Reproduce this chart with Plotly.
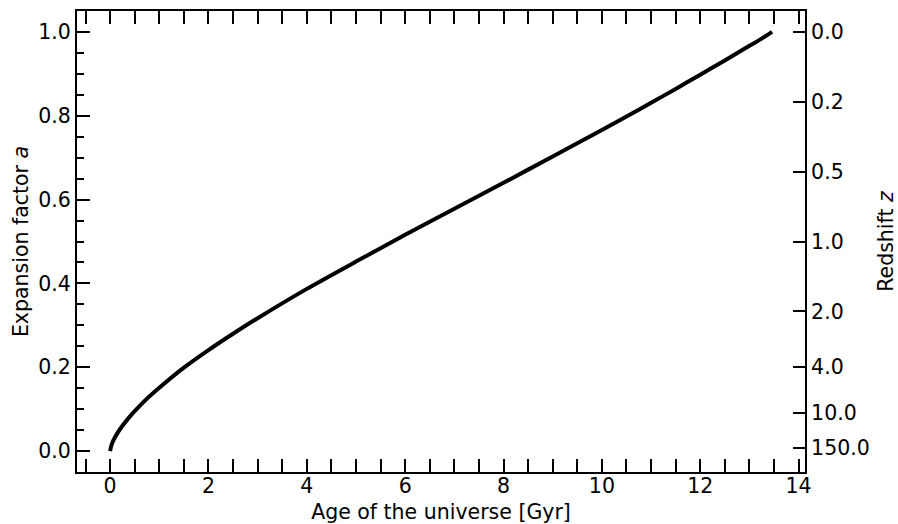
import plotly.graph_objects as go

# Age of the universe (Gyr) and the expansion factor at that age
age_gyr = [0.0, 0.02, 0.05, 0.1, 0.2, 0.35, 0.5, 0.75, 1.0, 1.5, 2.0, 2.5, 3.0,
           4.0, 5.0, 6.0, 7.0, 8.0, 9.0, 10.0, 10.5, 11.0, 11.5, 12.0, 12.5,
           13.0, 13.25, 13.46]
expansion_a = [0.0, 0.011, 0.021, 0.033, 0.052, 0.075, 0.095, 0.125, 0.151, 0.199,
               0.241, 0.280, 0.317, 0.387, 0.452, 0.516, 0.578, 0.640, 0.703,
               0.766, 0.798, 0.831, 0.864, 0.898, 0.932, 0.967, 0.984, 1.0]

# Redshift labels shown on the right-hand axis
redshift_ticks = [0.0, 0.2, 0.5, 1.0, 2.0, 4.0, 10.0, 150.0]

FONT = "DejaVu Sans"
FS = 20.5

fig = go.Figure()
fig.add_trace(go.Scatter(
    x=age_gyr, y=expansion_a, mode="lines",
    line=dict(color="black", width=4, shape="spline", smoothing=0.6),
    showlegend=False, hoverinfo="skip",
))
# invisible trace to activate the secondary y axis
fig.add_trace(go.Scatter(x=[None], y=[None], yaxis="y2", showlegend=False))

xr = [-0.673, 14.13]
yr = [-0.05, 1.05]

fig.update_layout(
    width=898, height=524,
    margin=dict(l=77, r=93, t=11, b=52),
    paper_bgcolor="white", plot_bgcolor="white",
    font=dict(family=FONT, size=FS, color="black"),
    xaxis=dict(
        range=xr, tick0=0, dtick=2, showgrid=False, zeroline=False,
        automargin=False, ticklabelstandoff=-6,
        showline=True, linecolor="black", linewidth=2, mirror="allticks",
        ticks="inside", ticklen=13, tickwidth=2, tickcolor="black",
        minor=dict(dtick=0.5, tick0=0, ticks="inside", ticklen=6, tickwidth=1.5,
                   tickcolor="black", showgrid=False),
        title=dict(text="Age of the universe [Gyr]", standoff=9,
                   font=dict(family=FONT, size=FS)),
        tickfont=dict(family=FONT, size=FS),
    ),
    yaxis=dict(
        range=yr, tick0=0, dtick=0.2, tickformat=".1f", showgrid=False,
        automargin=False,
        zeroline=False, showline=True, linecolor="black", linewidth=2,
        ticks="inside", ticklen=13, tickwidth=2, tickcolor="black",
        minor=dict(dtick=0.05, tick0=0, ticks="inside", ticklen=7, tickwidth=1.5,
                   tickcolor="black", showgrid=False),
        title=dict(text="Expansion factor <i>a</i>", standoff=4,
                   font=dict(family=FONT, size=FS)),
        tickfont=dict(family=FONT, size=FS),
    ),
    yaxis2=dict(
        overlaying="y", side="right", range=yr, automargin=False,
        tickmode="array",
        tickvals=[1.0 / (1.0 + z) for z in redshift_ticks],
        ticktext=[f"{z:.1f}" for z in redshift_ticks],
        showgrid=False, zeroline=False, showline=True, linecolor="black",
        linewidth=2, ticks="inside", ticklen=12, tickwidth=2, tickcolor="black",
        title=dict(text="Redshift <i>z</i>", standoff=12,
                   font=dict(family=FONT, size=FS)),
        tickfont=dict(family=FONT, size=FS),
    ),
)

fig.write_html("out.html")
